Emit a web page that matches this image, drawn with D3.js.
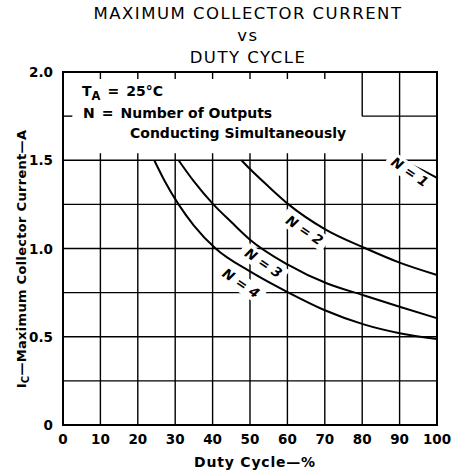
<!DOCTYPE html>
<html>
<head>
<meta charset="utf-8">
<script src="https://cdn.jsdelivr.net/npm/d3@7"></script>
<style>
  body { margin: 0; background: #fff; }
  svg text { font-family: "DejaVu Sans", "Liberation Sans", Arial, sans-serif; fill: #000; }
</style>
</head>
<body>
<div id="chart"></div>
<script>
// 축 눈금
const xTicks = [0, 10, 20, 30, 40, 50, 60, 70, 80, 90, 100];
const yTicks = [0, 0.5, 1.0, 1.5, 2.0];
const yGrid = [0.25, 0.5, 0.75, 1.0, 1.25, 1.5, 1.75];

// 곡선 데이터 (듀티 사이클 %, 최대 콜렉터 전류 A)
const curveN1 = [[90.5, 1.5], [95, 1.455], [100, 1.40]];
const curveN2 = [[47.7, 1.5], [50, 1.45], [55, 1.35], [60.3, 1.25], [70, 1.11], [81, 1.0], [90, 0.92], [100, 0.85]];
const curveN3 = [[30.9, 1.5], [35, 1.38], [40.2, 1.25], [45, 1.15], [50, 1.05], [60, 0.91], [70.8, 0.80], [79.6, 0.74], [90, 0.67], [100, 0.605]];
const curveN4 = [[24.4, 1.5], [27, 1.39], [30.9, 1.25], [35, 1.13], [40.8, 1.0], [50, 0.87], [60.3, 0.75], [70, 0.65], [80.4, 0.57], [90, 0.52], [100, 0.487]];
const curves = [curveN1, curveN2, curveN3, curveN4];

// 곡선 라벨 (텍스트, 위치)
const curveLabels = [
  { text: "N = 1", x: 92.6, y: 1.43 },
  { text: "N = 2", x: 64.5, y: 1.10 },
  { text: "N = 3", x: 53.5, y: 0.915 },
  { text: "N = 4", x: 47.5, y: 0.80 }
];

const width = 457, height = 474;
const margin = { left: 63, right: 20, top: 72, bottom: 49 };
const sp = '\u2002'; // 넓은 공백

const svg = d3.select('#chart').append('svg')
  .attr('width', width)
  .attr('height', height);

const x = d3.scaleLinear().domain([0, 100]).range([margin.left, width - margin.right]);
const y = d3.scaleLinear().domain([0, 2.0]).range([height - margin.bottom, margin.top]);

// 제목
const titles = ["MAXIMUM COLLECTOR CURRENT", "vs", "DUTY CYCLE"];
svg.selectAll('text.title')
  .data(titles)
  .enter()
  .append('text')
  .attr('class', 'title')
  .attr('x', 248)
  .attr('y', (d, i) => 19 + i * 22)
  .attr('text-anchor', 'middle')
  .attr('font-size', '16.5px')
  .style('letter-spacing', '1.5px')
  .text(d => d);

const grid = svg.append('g').attr('stroke', '#000').attr('stroke-width', 1.4);

// 세로 격자선 (주석 영역에서는 짧은 눈금만)
xTicks.slice(1, -1).forEach(v => {
  if (v < 80) {
    grid.append('line').attr('x1', x(v)).attr('x2', x(v)).attr('y1', y(2.0)).attr('y2', y(2.0) + 7);
    grid.append('line').attr('x1', x(v)).attr('x2', x(v)).attr('y1', y(1.5) - 7).attr('y2', y(0));
  } else if (v === 80) {
    grid.append('line').attr('x1', x(v)).attr('x2', x(v)).attr('y1', y(2.0)).attr('y2', y(1.75));
    grid.append('line').attr('x1', x(v)).attr('x2', x(v)).attr('y1', y(1.5) - 7).attr('y2', y(0));
  } else {
    grid.append('line').attr('x1', x(v)).attr('x2', x(v)).attr('y1', y(2.0)).attr('y2', y(0));
  }
});

// 가로 격자선
yGrid.forEach(v => {
  if (v === 1.75) {
    grid.append('line').attr('x1', x(0)).attr('x2', x(2.5)).attr('y1', y(v)).attr('y2', y(v));
    grid.append('line').attr('x1', x(80)).attr('x2', x(100)).attr('y1', y(v)).attr('y2', y(v));
  } else {
    grid.append('line').attr('x1', x(0)).attr('x2', x(100)).attr('y1', y(v)).attr('y2', y(v));
  }
});

// 외곽 프레임
svg.append('rect')
  .attr('x', x(0)).attr('y', y(2.0))
  .attr('width', x(100) - x(0)).attr('height', y(0) - y(2.0))
  .attr('fill', 'none').attr('stroke', '#000').attr('stroke-width', 2);

// 곡선
const line = d3.line()
  .x(d => x(d[0]))
  .y(d => y(d[1]))
  .curve(d3.curveMonotoneX);

svg.selectAll('path.curve')
  .data(curves)
  .enter()
  .append('path')
  .attr('class', 'curve')
  .attr('d', line)
  .attr('fill', 'none')
  .attr('stroke', '#000')
  .attr('stroke-width', 2);

// 곡선 라벨 (흰 배경으로 선을 끊음)
const lbl = svg.selectAll('g.clabel')
  .data(curveLabels)
  .enter()
  .append('g')
  .attr('class', 'clabel')
  .attr('transform', d => `translate(${x(d.x)},${y(d.y)}) rotate(34)`);

lbl.append('rect')
  .attr('x', -26).attr('y', -9)
  .attr('width', 52).attr('height', 17)
  .attr('fill', '#fff');

lbl.append('text')
  .attr('text-anchor', 'middle')
  .attr('dominant-baseline', 'middle')
  .attr('font-size', '13.5px')
  .attr('font-weight', 'bold')
  .attr('font-style', 'italic')
  .text(d => d.text);

// 주석 텍스트
const note = svg.append('g').attr('font-weight', 'bold').attr('font-size', '14px');
const ta = note.append('text').attr('x', 82).attr('y', 96);
ta.append('tspan').text('T');
ta.append('tspan').attr('font-size', '11.5px').attr('dy', 4).text('A');
ta.append('tspan').attr('dy', -4).text(`${sp}=${sp}25°C`);
note.append('text').attr('x', 83).attr('y', 118).text(`N${sp}=${sp}Number of Outputs`);
note.append('text').attr('x', 130).attr('y', 138).text('Conducting Simultaneously');

// X축 눈금 라벨
svg.selectAll('text.xtick')
  .data(xTicks)
  .enter()
  .append('text')
  .attr('class', 'xtick')
  .attr('x', d => x(d))
  .attr('y', height - margin.bottom + 19)
  .attr('text-anchor', 'middle')
  .attr('font-size', '13.5px')
  .attr('font-weight', 'bold')
  .text(d => d);

// Y축 눈금 라벨
svg.selectAll('text.ytick')
  .data(yTicks)
  .enter()
  .append('text')
  .attr('class', 'ytick')
  .attr('x', margin.left - 10)
  .attr('y', d => y(d) + 5)
  .attr('text-anchor', 'end')
  .attr('font-size', '13.5px')
  .attr('font-weight', 'bold')
  .text(d => d === 0 ? '0' : d.toFixed(1));

// X축 제목
svg.append('text')
  .attr('x', 255).attr('y', 467)
  .attr('text-anchor', 'middle')
  .attr('font-size', '14px')
  .attr('font-weight', 'bold')
  .style('letter-spacing', '0.8px')
  .text('Duty Cycle—%');

// Y축 제목
const yt = svg.append('text')
  .attr('transform', `translate(26,259) rotate(-90)`)
  .attr('text-anchor', 'middle')
  .attr('font-size', '13px')
  .attr('font-weight', 'bold')
  .style('letter-spacing', '0.3px');
yt.append('tspan').text('I');
yt.append('tspan').attr('font-size', '10px').attr('dy', 3).text('C');
yt.append('tspan').attr('dy', -3).text('—Maximum Collector Current—A');
</script>
</body>
</html>
